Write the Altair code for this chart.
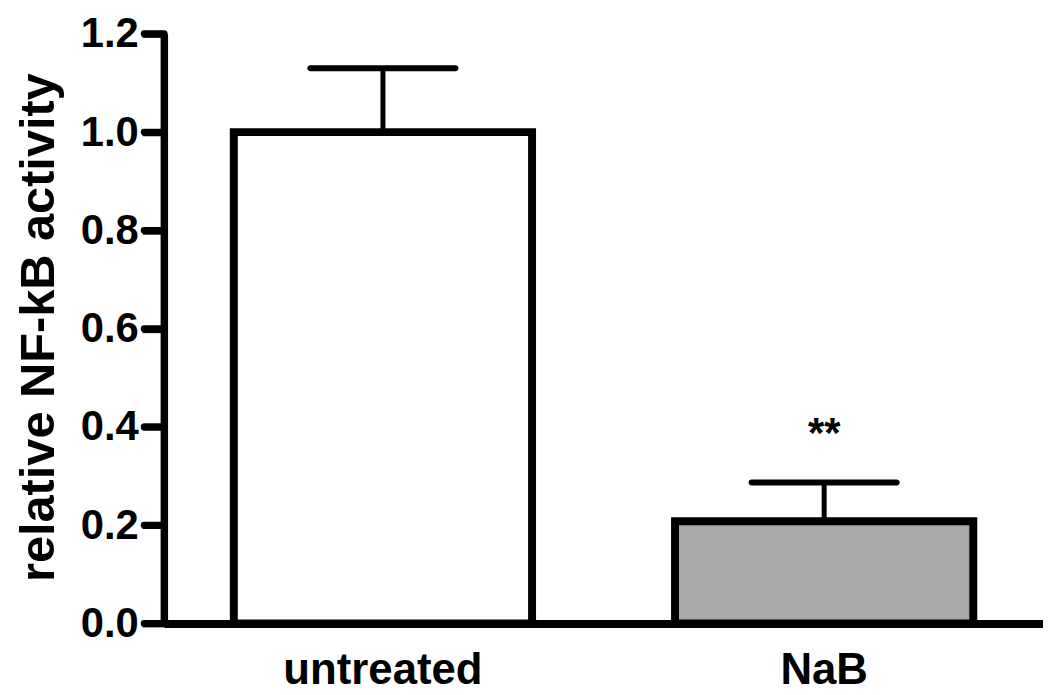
import altair as alt
import pandas as pd

categories = ["untreated", "NaB"]
means = [1.00, 0.208]
upper_err = [1.13, 0.287]
fills = ["#ffffff", "#a8a8a8"]
star_labels = ["", "**"]
star_pos = [0.0, 0.36]
y_ticks = [0.0, 0.2, 0.4, 0.6, 0.8, 1.0, 1.2]

df = pd.DataFrame({"cat": categories, "mean": means, "upper": upper_err, "fill": fills})
stars = pd.DataFrame({"cat": categories, "label": star_labels, "pos": star_pos})
stars = stars[stars["label"] != ""]
ticks_df = pd.DataFrame({"v": y_ticks})
dom_df = pd.DataFrame({"lo": [y_ticks[0]], "hi": [y_ticks[-1]]})

FONT = "Liberation Sans"

xscale = alt.Scale(paddingInner=0.324, paddingOuter=0.158)
yscale = alt.Scale(domain=[0, 1.2], nice=False, zero=True)

xaxis = alt.Axis(
    title="", labelAngle=0, labelFontSize=44, labelFontWeight="bold",
    labelFont=FONT, labelColor="black", labelLimit=0, ticks=False, tickSize=0,
    labelBaseline="alphabetic", labelPadding=60,
    domain=True, domainColor="black", domainWidth=8, domainOpacity=1, grid=False,
)
yaxis = alt.Axis(
    title="relative NF-kB activity", titleFont=FONT, titleFontSize=49,
    titleFontWeight="bold", titleColor="black", titleAngle=270,
    titleAlign="center", titleBaseline="alphabetic",
    titleX=-111, titleY=295,
    values=y_ticks, format=".1f", labelFont=FONT, labelFontSize=42,
    labelFontWeight="bold", labelColor="black", labelPadding=4, labelLimit=0,
    ticks=True, tickSize=22, tickWidth=7, tickColor="black", tickOpacity=1,
    domain=True, domainColor="black", domainWidth=7, domainOpacity=1, grid=False,
)

xenc = alt.X("cat:N", sort=categories, scale=xscale, axis=xaxis)

bars = alt.Chart(df).mark_bar(stroke="black", strokeWidth=8, strokeJoin="miter").encode(
    x=xenc,
    y=alt.Y("mean:Q", scale=yscale, axis=yaxis),
    fill=alt.Fill("fill:N", scale=None),
)

err_line = alt.Chart(df).mark_rule(color="black", strokeWidth=5, opacity=1).encode(
    x=xenc,
    y=alt.Y("mean:Q", scale=yscale, axis=yaxis),
    y2="upper:Q",
)

err_cap = alt.Chart(df).mark_tick(color="black", thickness=6, size=152, opacity=1,
                                  cornerRadius=3).encode(
    x=xenc,
    y=alt.Y("upper:Q", scale=yscale, axis=yaxis),
)

star_text = alt.Chart(stars).mark_text(
    font=FONT, fontSize=42, fontWeight="bold", color="black", baseline="alphabetic"
).encode(
    x=xenc,
    y=alt.Y("pos:Q", scale=yscale, axis=yaxis),
    text="label:N",
)

# heavier y-axis line and ticks, drawn through the y scale
y_line = alt.Chart(dom_df).mark_rule(color="black", strokeWidth=7, strokeCap="butt").encode(
    x=alt.value(0),
    y=alt.Y("lo:Q", scale=yscale, axis=yaxis),
    y2="hi:Q",
)
y_tickmarks = alt.Chart(ticks_df).mark_rule(color="black", strokeWidth=7, strokeCap="round").encode(
    x=alt.value(-20),
    x2=alt.value(0),
    y=alt.Y("v:Q", scale=yscale, axis=yaxis),
)

chart = (
    alt.layer(bars, err_line, err_cap, star_text, y_line, y_tickmarks)
    .properties(
        width=884, height=593,
        background="white",
        autosize=alt.AutoSizeParams(type="none"),
        padding={"left": 157, "top": 24, "right": 0, "bottom": 70},
    )
    .configure_view(strokeWidth=0, stroke="transparent")
    .configure_axis(grid=False)
)

chart.save("out.html", embed_options={"renderer": "svg", "actions": False})
